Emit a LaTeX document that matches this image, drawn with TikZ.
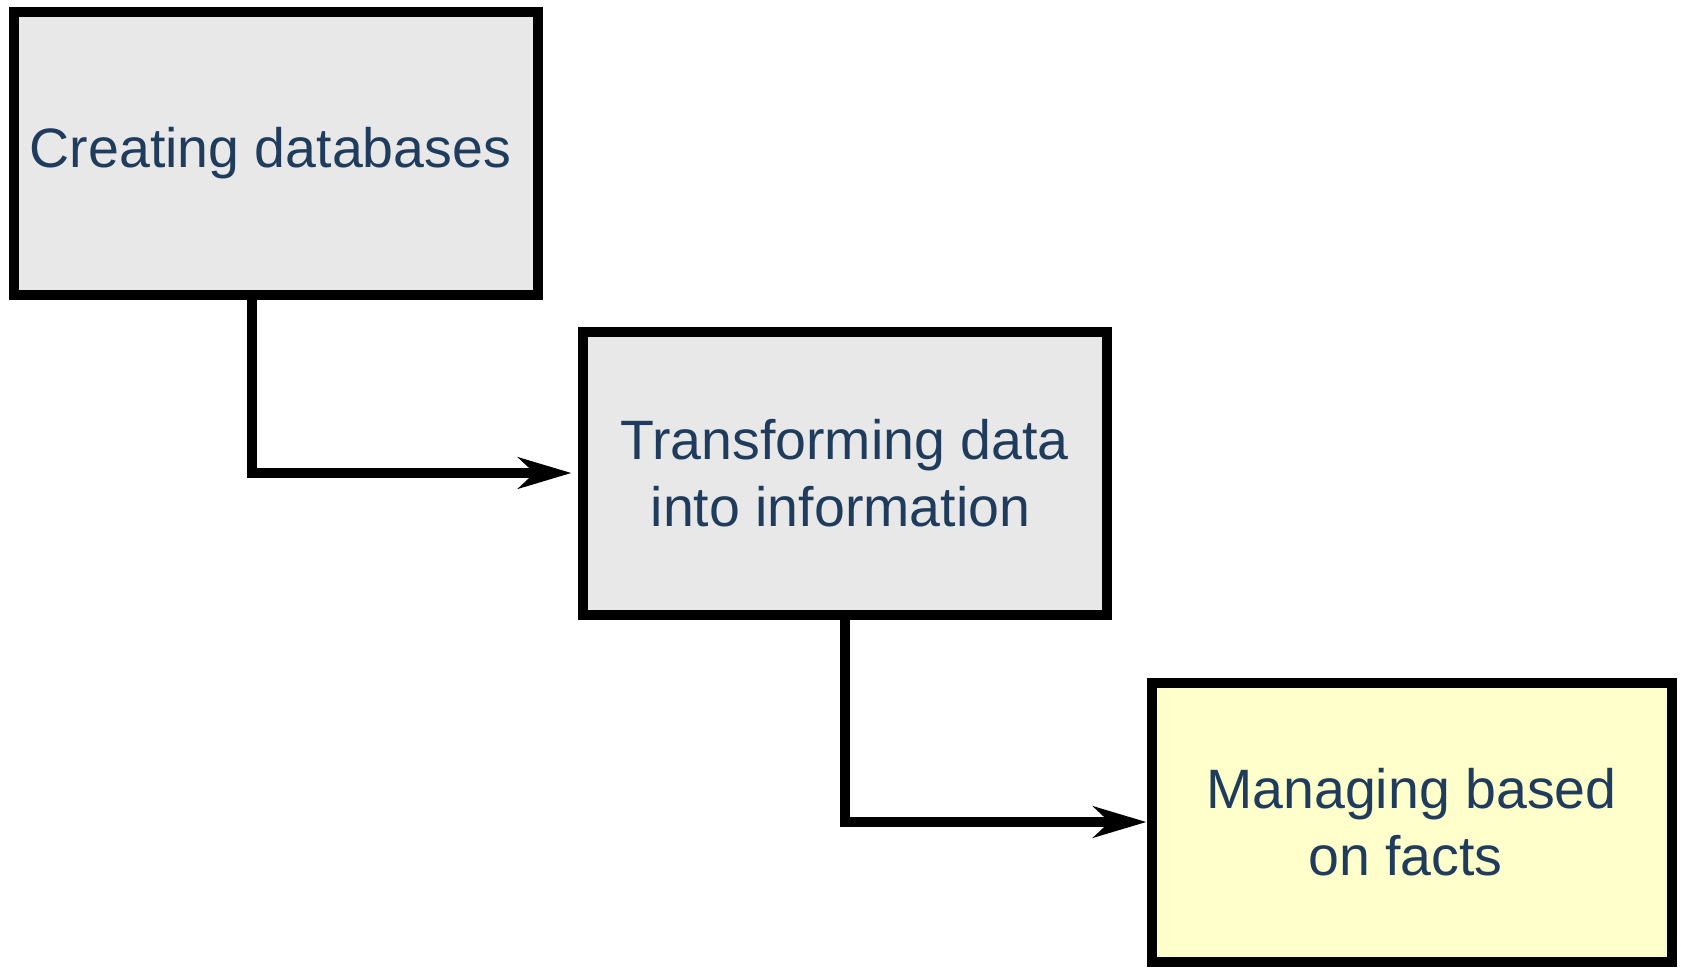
\documentclass[tikz,border=0pt]{standalone}
\usepackage{fontspec}
\setmainfont{Liberation Sans}
\usetikzlibrary{arrows.meta,positioning}
\definecolor{textblue}{HTML}{1F3C5C}
\definecolor{boxgray}{HTML}{E8E8E8}
\definecolor{boxyellow}{HTML}{FFFFCC}
\tikzstyle{stage}=[rectangle, line width=10pt, draw=black, fill=boxgray, minimum width=524pt, minimum height=283pt, text=textblue, align=center, font=\fontsize{55.5pt}{66.5pt}\selectfont]
\tikzstyle{goal}=[stage, fill=boxyellow, minimum width=520pt, minimum height=279pt]
\tikzstyle{connect}=[-{Stealth[length=53pt, width=31pt, inset=16pt]}, line width=10pt]
\tikzstyle{elbow}=[to path={|- (\tikztotarget)}]
\begin{document}
\begin{tikzpicture}
  \useasboundingbox (0,0) rectangle (1681pt,-967pt);
  \node[stage] (Create) at (275.5pt,-153pt) {\raisebox{-7pt}{Creating databases}\hspace*{10pt}};
  \node[stage] (Transform) [below right=27pt and 35pt of Create] {Transforming data\\into information\hspace*{8pt}};
  \node[goal]  (Manage) [below right=58pt and 35pt of Transform] {\raisebox{-6pt}{Managing based}\\\raisebox{-6pt}{on facts}\hspace*{12pt}};
  \coordinate (CreateOut) at ([xshift=-23.5pt]Create.south);

  \path (CreateOut) edge [connect, elbow, shorten >=6pt] (Transform.west)
        (Transform.south) edge [connect, elbow] (Manage.west);
\end{tikzpicture}
\end{document}
